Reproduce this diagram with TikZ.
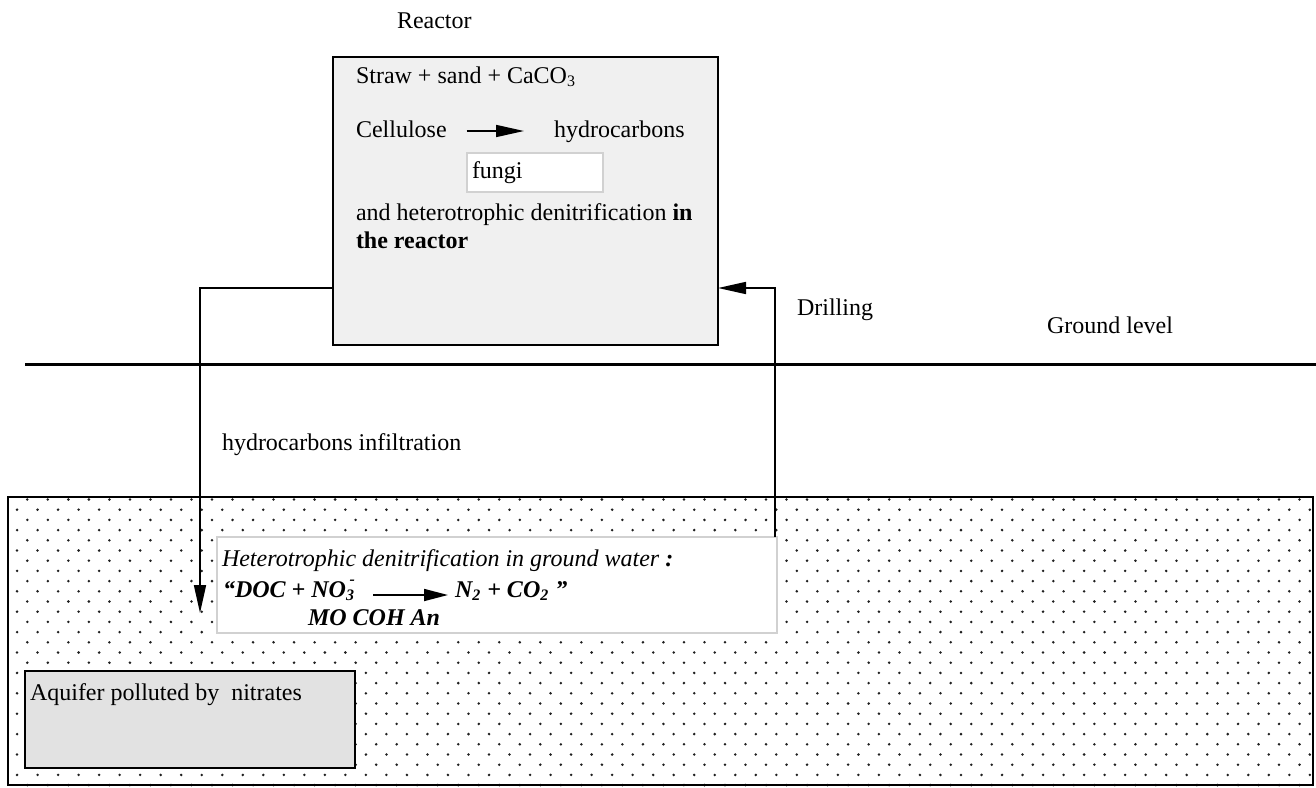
\documentclass[tikz,border=0pt]{standalone}
\usepackage{fontspec}
\setmainfont{Liberation Serif}
\usetikzlibrary{arrows.meta}
\definecolor{reactorfill}{gray}{0.94}
\definecolor{aquiferfill}{gray}{0.885}
\definecolor{softedge}{gray}{0.82}
\definecolor{dotcol}{gray}{0.12}
\begin{document}
\begin{tikzpicture}[x=0.5pt,y=-0.5pt,
  txt/.style={anchor=base west, inner sep=0pt, outer sep=0pt, font=\fontsize{12}{14}\selectfont},
  bitxt/.style={txt, font=\fontsize{12}{14}\selectfont\bfseries\itshape},
  flow/.style={line width=0.85pt, -{Triangle[length=14pt,width=6pt]}},
  hardbox/.style={draw=black, inner sep=0pt, outer sep=0pt},
  softbox/.style={draw=softedge, fill=white, line width=0.9pt, inner sep=0pt, outer sep=0pt}]
\useasboundingbox (0,0) rectangle (1316,787);

% soil below the ground: staggered dot texture
\begin{scope}
  \clip (8,497) rectangle (1313,786);
  \foreach \j in {0,...,28}{
    \pgfmathsetmacro\yy{499.5+10.2*\j}
    \pgfmathsetmacro\xo{6.8+10.26*mod(\j,2)}
    \foreach \k in {0,...,64}{
      \fill[dotcol] (\xo+20.52*\k,\yy) circle (0.7pt);
    }
  }
\end{scope}
\node[hardbox, line width=1.2pt, minimum width=652.5pt, minimum height=144pt] (soil) at (660.5,641) {};

% ground level
\coordinate (gl0) at (25,364);
\coordinate (gl1) at (1316,364);
\draw[line width=1.5pt] (gl0) -- (gl1);

% denitrification zone in the ground water
\node[softbox, minimum width=280pt, minimum height=48pt] (gw) at (497,585) {};
\node[txt, font=\fontsize{12}{14}\selectfont\itshape] (gwt) at (222,566) {Heterotrophic denitrification in ground water \textbf{:}};
\node[bitxt] (doc) at (223,597) {“DOC + NO\textsubscript{3}\llap{\raisebox{6.5pt}{\fontsize{8}{8}\selectfont -}}};
\node[bitxt] (prod) at (455,597) {N\textsubscript{2} + CO\textsubscript{2} ”};
\node[bitxt] (mo) at (308,625) {MO COH An};
\draw[line width=0.85pt, -{Triangle[length=12pt,width=6pt]}] ([shift={(9pt,1pt)}]doc.base east) -- ([shift={(-3.5pt,1pt)}]prod.base west);

% polluted aquifer
\node[hardbox, fill=aquiferfill, line width=1.2pt, minimum width=165pt, minimum height=48.5pt] (aq) at (190,719.5) {};
\node[txt] (aqt) at (30,700) {Aquifer polluted by~ nitrates};

% reactor
\node[hardbox, fill=reactorfill, line width=0.9pt, minimum width=192.5pt, minimum height=144pt] (reactor) at (525.5,201) {};
\node[txt] (title) at (397,28) {Reactor};
\node[txt] (mix) at (356,83) {Straw + sand + CaCO\textsubscript{3}};
\node[txt] (cell) at (356,137) {Cellulose};
\node[txt] (hyd) at (554,137) {hydrocarbons};
\draw[flow] ([shift={(10pt,3pt)}]cell.base east) -- ([shift={(-15pt,3pt)}]hyd.base west);
\node[softbox, minimum width=68pt, minimum height=19.5pt] (fbox) at (535,172.5) {};
\node[txt] (fungi) at (472,178) {fungi};
\node[txt] (den1) at (356,220) {and heterotrophic denitrification \textbf{in}};
\node[txt] (den2) at (356,248) {\textbf{the reactor}};

% pipes between the reactor and the aquifer
\coordinate (drain) at (333,288);
\coordinate (seep) at (200,613);
\draw[flow] (drain) -| (seep);
\coordinate (well) at (775,537);
\coordinate (feed) at (718,288);
\draw[flow] (well) |- (feed);

% labels
\node[txt] (drill) at (797,315) {Drilling};
\node[txt] (ground) at (1047,333) {Ground level};
\node[txt] (infil) at (222,450) {hydrocarbons infiltration};
\end{tikzpicture}
\end{document}
